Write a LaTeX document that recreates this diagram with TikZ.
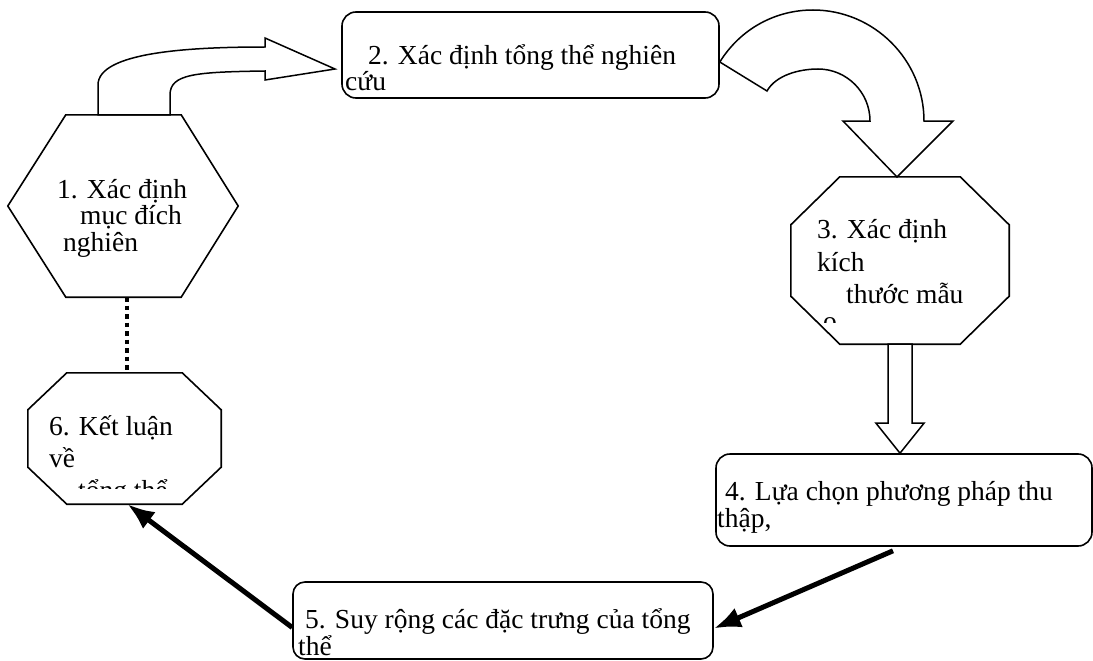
\documentclass[tikz,border=0pt]{standalone}
\usepackage{fontspec}
\setmainfont{Liberation Serif}
\usetikzlibrary{arrows.meta}
\tikzstyle{rec}   = [rectangle, rounded corners=14pt, draw, line width=1.6pt]
\tikzstyle{frame} = [rectangle, inner sep=0pt]
\tikzstyle{shp}   = [draw, line width=1.6pt, line join=miter]
\tikzstyle{txt}   = [anchor=base west, inner sep=0pt, align=left]
\tikzstyle{block} = [draw, fill=white, line width=1.5pt, line join=miter]
\tikzstyle{arrow} = [-{Latex[length=27pt,width=21pt]}, line width=5pt]
\tikzstyle{dots}  = [line width=4.5pt, dash pattern=on 4.5pt off 4pt]

\begin{document}
\begin{tikzpicture}[x=1pt, y=-1pt]
      \useasboundingbox (0,0) rectangle (1093,661);

      \node(n1) [frame, minimum width=230pt, minimum height=182pt] at (123,206)   {};
      \node(n2) [rec,   minimum width=377pt, minimum height=86pt]  at (530.5,55)  {};
      \node(n3) [frame, minimum width=218pt, minimum height=167pt] at (900,260.5) {};
      \node(n4) [rec,   minimum width=376pt, minimum height=92pt]  at (904,500)   {};
      \node(n5) [rec, rounded corners=12pt, minimum width=420pt, minimum height=77pt] at (503,620.5) {};
      \node(n6) [frame, minimum width=193pt, minimum height=131pt] at (124.5,438.5) {};

      % hexagon and octagons
      \draw [shp] (n1.west) -- ([xshift=58pt]n1.north west) -- ([xshift=-57pt]n1.north east)
            -- (n1.east) -- ([xshift=-57pt]n1.south east) -- ([xshift=58pt]n1.south west) -- cycle;
      \draw [shp] ([yshift=-48pt]n3.north west) -- ([xshift=49pt]n3.north west)
            -- ([xshift=-49pt]n3.north east) -- ([yshift=-48pt]n3.north east)
            -- ([yshift=48pt]n3.south east) -- ([xshift=-49pt]n3.south east)
            -- ([xshift=49pt]n3.south west) -- ([yshift=48pt]n3.south west) -- cycle;
      \draw [shp] ([yshift=-37pt]n6.north west) -- ([xshift=39pt]n6.north west)
            -- ([xshift=-39pt]n6.north east) -- ([yshift=-37pt]n6.north east)
            -- ([yshift=37pt]n6.south east) -- ([xshift=-39pt]n6.south east)
            -- ([xshift=39pt]n6.south west) -- ([yshift=37pt]n6.south west) -- cycle;

      % texts (placed at the baseline of their last line)
      \node(t1) [txt, font=\fontsize{27.5}{26.5}\selectfont] at (57,251)
            {1. Xác định\\\hspace*{23pt}mục đích\\\hspace*{6pt}nghiên};
      \node(t2) [txt, font=\fontsize{27.5}{23}\selectfont] at (345,91)
            {\hspace*{23pt}2. Xác định tổng thể nghiên\\cứu};
      \begin{scope}
        \clip (795,180) rectangle (1005,322);
        \node(t3) [txt, font=\fontsize{27.5}{32.5}\selectfont] at (817,330)
              {3. Xác định\\kích\\\hspace*{29pt}thước mẫu\\[-6pt]\hspace*{6pt}o};
      \end{scope}
      \node(t4) [txt, font=\fontsize{27.5}{25}\selectfont] at (717,527)
            {\hspace*{8pt}4. Lựa chọn phương pháp thu\\thập,};
      \node(t5) [txt, font=\fontsize{27.5}{25}\selectfont] at (298,655)
            {\hspace*{7pt}5. Suy rộng các đặc trưng của tổng\\thể};
      \begin{scope}
        \clip (30,375) rectangle (219,488);
        \node(t6) [txt, font=\fontsize{27.5}{32}\selectfont] at (49,499)
              {6. Kết luận\\về\\\hspace*{29pt}tổng thể};
      \end{scope}

      % block arrows
      \draw [block] ([xshift=-25pt]n1.north) -- (98,85) .. controls (98,52) and (190,47) .. (265,47)
            -- (265,38) -- (335,69) -- (265,80) -- (265,71)
            .. controls (195,72) and (170,74) .. (170,95) -- ([xshift=47pt]n1.north) -- cycle;
      \draw [block] ([yshift=-7pt]n2.east) .. controls (740.6,28.6) and (775.5,10) .. (813,10)
            .. controls (874,10) and (924,60) .. (924,121) -- (953,121) -- (897,177) -- (843,121)
            -- (870,121) .. controls (870,92.3) and (846.7,69) .. (818,69)
            .. controls (799.5,69) and (776,75) .. (767,91) -- cycle;
      \draw [block] ([xshift=-12pt]n3.south) -- ++(0,79) -- ++(-12,0) -- (n3.south |- n4.north)
            -- ++(24,-30) -- ++(-12,0) -- ([xshift=12pt]n3.south) -- cycle;

      \draw [dots]  ([xshift=4pt]n1.south) -- ([xshift=2.5pt]n6.north);
      \draw [arrow] ([xshift=-11pt,yshift=-4pt]n4.south) -- ([yshift=-8pt]n5.east);
      \draw [arrow] ([yshift=-7pt]n5.west) -- ([xshift=3pt]n6.south);
    \end{tikzpicture}
\end{document}
